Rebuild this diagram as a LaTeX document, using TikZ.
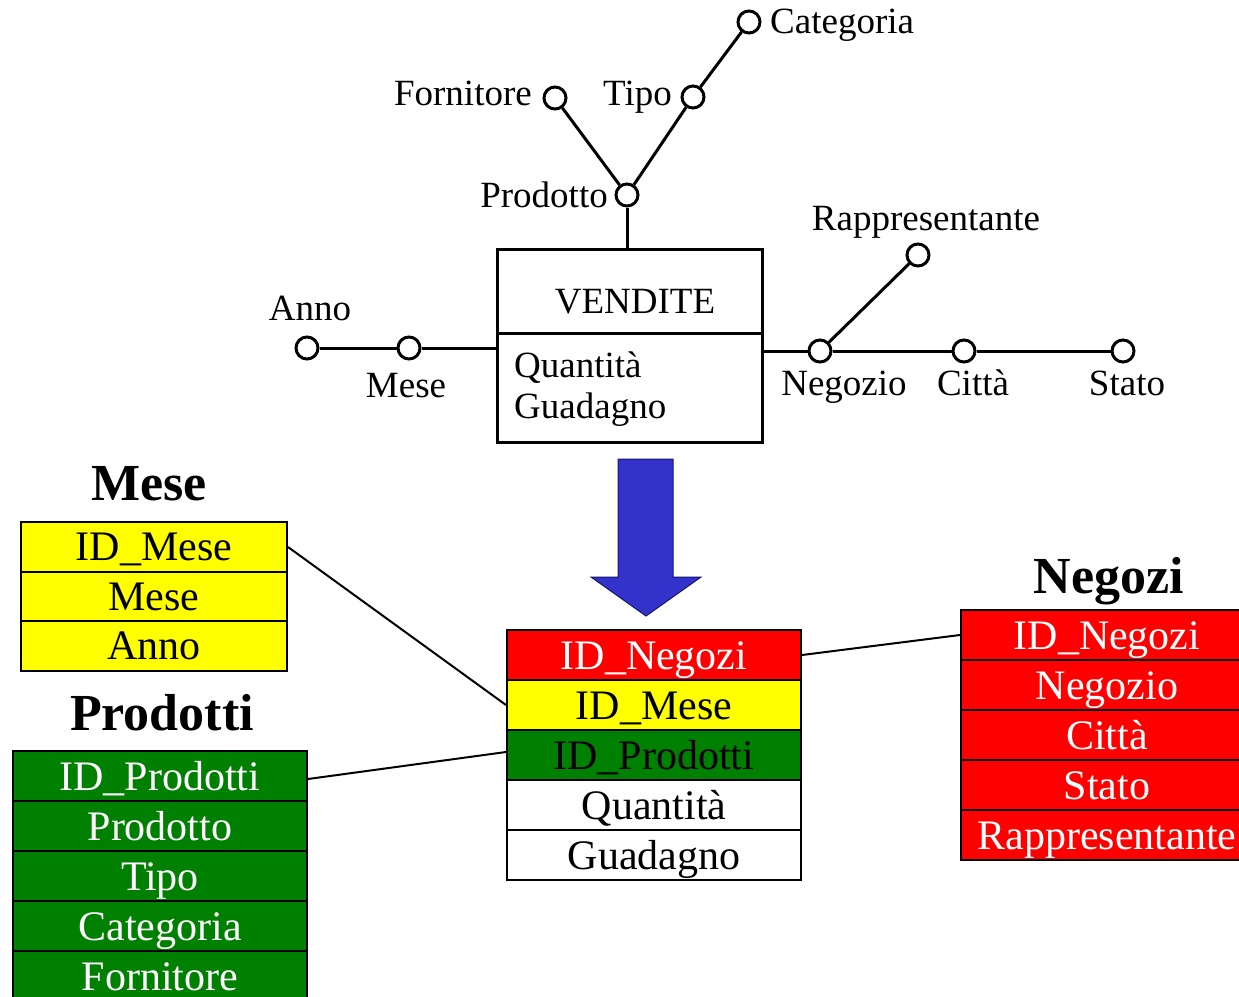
\documentclass[tikz,border=0pt]{standalone}
\usepackage{fontspec}
\setmainfont{Liberation Serif}
\definecolor{myred}{RGB}{255,0,0}
\definecolor{myyellow}{RGB}{255,255,0}
\definecolor{mygreen}{RGB}{0,128,0}
\definecolor{myblue}{RGB}{51,51,204}
\definecolor{myblueline}{RGB}{20,20,110}
\newcommand\lblfont{\fontsize{37}{40}\selectfont}
\newcommand\tabfont{\fontsize{42}{44}\selectfont}
\newcommand\ttlfont{\fontsize{52}{54}\selectfont\bfseries}
\begin{document}
\begin{tikzpicture}[x=1pt,y=-1pt,
  lbl/.style={inner sep=0pt, font=\lblfont},
  ttl/.style={inner sep=0pt, anchor=base, font=\ttlfont},
  attr/.style={circle, draw, fill=white, line width=3pt, minimum size=22pt, inner sep=0pt},
  conn/.style={line width=3pt},
  link/.style={line width=2pt},
  row/.style={rectangle, draw, line width=2pt, inner sep=0pt, anchor=north west,
    font=\tabfont, text height=39pt, text depth=11pt, minimum height=50pt},
  mrow/.style={row, fill=myyellow, text=black, minimum width=266pt, text height=38.5pt},
  prow/.style={row, fill=mygreen, text=white, minimum width=294pt},
  nrow/.style={row, fill=myred, text=white, minimum width=292pt},
  frow/.style={row, minimum width=294pt},
]
\useasboundingbox (0,0) rectangle (1239,996);

% ---------- top: dimensional fact schema ----------
\node[draw, line width=3pt, minimum width=265pt, minimum height=193pt, inner sep=0pt] (vend) at (629.5,346) {};
\draw[line width=3pt] (497,333) -- (762,333);
\node[lbl, anchor=base] (vendt) at (635,313) {VENDITE};
\node[lbl, anchor=base west] (quant) at (514,377) {Quantità};
\node[lbl, anchor=base west] (guad) at (514,418) {Guadagno};

\node[attr] (prod) at (627,195) {};
\node[attr] (forn) at (555,98) {};
\node[attr] (tipo) at (693,97) {};
\node[attr] (cat) at (749,22) {};
\node[attr] (anno) at (307,348) {};
\node[attr] (mese) at (409,348) {};
\node[attr] (neg) at (820,351) {};
\node[attr] (citta) at (964,351) {};
\node[attr] (stato) at (1123,351) {};
\node[attr] (rapp) at (918,255) {};

\draw[conn] (prod) -- (prod |- vend.north);
\draw[conn] (prod) -- (forn);
\draw[conn] (prod) -- (tipo);
\draw[conn] (tipo) -- (cat);
\draw[conn] (anno) -- (mese);
\draw[conn] (mese) -- (mese -| vend.west);
\draw[conn] (neg -| vend.east) -- (neg);
\draw[conn] (neg) -- (citta);
\draw[conn] (citta) -- (stato);
\draw[conn] (neg) -- (rapp);

\node[lbl, anchor=base west] (lcat) at (770,33) {Categoria};
\node[lbl, anchor=base east] (lforn) at (532,105) {Fornitore};
\node[lbl, anchor=base west] (ltipo) at (603,105) {Tipo};
\node[lbl, anchor=base east] (lprod) at (608,207) {Prodotto};
\node[lbl, anchor=base] (lrapp) at (926,230) {Rappresentante};
\node[lbl, anchor=base] (lanno) at (310,320) {Anno};
\node[lbl, anchor=base] (lmese) at (406,397) {Mese};
\node[lbl, anchor=base] (lneg) at (844,395) {Negozio};
\node[lbl, anchor=base] (lcitta) at (973,395) {Città};
\node[lbl, anchor=base] (lstato) at (1127,395) {Stato};

% ---------- block arrow ----------
\filldraw[fill=myblue, draw=myblueline, line width=1pt]
  (618,459) -- (673,459) -- (673,577) -- (701,577) -- (646,616) -- (591,577) -- (618,577) -- cycle;

% ---------- Mese table ----------
\node[ttl] (tmese) at (149,500) {Mese};
\node[mrow] (m1) at (20,521) {ID\_Mese};
\node[mrow] (m2) at (20,570.5) {Mese};
\node[mrow] (m3) at (20,620) {Anno};

% ---------- Prodotti table ----------
\node[ttl] (tprod) at (162,730) {Prodotti};
\node[prow] (p1) at (12,750) {ID\_Prodotti};
\node[prow] (p2) at (12,800) {Prodotto};
\node[prow] (p3) at (12,850) {Tipo};
\node[prow] (p4) at (12,900) {Categoria};
\node[prow] (p5) at (12,950) {Fornitore};

% ---------- fact table ----------
\node[frow, fill=myred, text=white] (f1) at (506,629) {ID\_Negozi};
\node[frow, fill=myyellow] (f2) at (506,679) {ID\_Mese};
\node[frow, fill=mygreen] (f3) at (506,729) {ID\_Prodotti};
\node[frow, fill=white] (f4) at (506,779) {Quantità};
\node[frow, fill=white] (f5) at (506,829) {Guadagno};

% ---------- Negozi table ----------
\node[ttl] (tneg) at (1109,593) {Negozi};
\node[nrow] (n1) at (960,609) {ID\_Negozi};
\node[nrow] (n2) at (960,659) {Negozio};
\node[nrow] (n3) at (960,709) {Città};
\node[nrow] (n4) at (960,759) {Stato};
\node[nrow] (n5) at (960,809) {Rappresentante};

% ---------- links ----------
\draw[link] (m1.east) -- (f2.west);
\draw[link] ([yshift=-3pt]p1.east) -- ([yshift=3pt]f3.west);
\draw[link] (f1.east) -- (n1.west);
\end{tikzpicture}
\end{document}
